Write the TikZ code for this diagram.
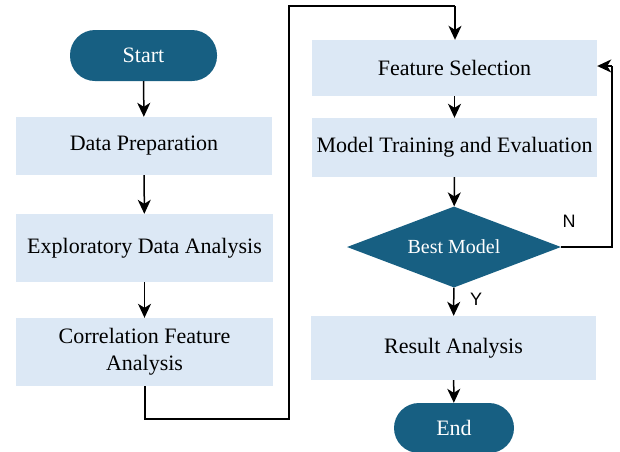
\documentclass[tikz,border=0pt]{standalone}
\usepackage{fontspec}
\setmainfont{Liberation Serif}
\newfontfamily\labfont{Liberation Sans}
\usetikzlibrary{shapes.geometric,arrows.meta}
\definecolor{darkb}{HTML}{175F82}
\definecolor{lightb}{HTML}{DCE8F5}
\begin{document}
\begin{tikzpicture}[x=1pt,y=-1pt,
  procbox/.style={fill=lightb,draw=none,minimum width=#1,inner xsep=1pt,align=center,font=\fontsize{22}{27}\selectfont},
  term/.style={fill=darkb,draw=none,text=white,rounded corners=25pt,font=\fontsize{22}{27}\selectfont},
  decis/.style={fill=darkb,draw=none,text=white,diamond,aspect=2.64,inner sep=0pt,font=\fontsize{20}{24}\selectfont},
  conn/.style={line width=1.5pt,-{Stealth[length=14pt,width=13pt,inset=4pt]}},
  lab/.style={font=\labfont\fontsize{18}{20}\selectfont}]
\useasboundingbox (0,0) rectangle (620,451);
\node[term,minimum width=147pt,minimum height=51pt] (start) at (143.5,55.5) {Start};
\node[procbox=256pt,minimum height=58pt] (prep) at (144,146) {Data Preparation};
\node[procbox=257pt,minimum height=68pt] (eda) at (144.5,248) {Exploratory Data Analysis};
\node[procbox=257pt,minimum height=68pt] (corr) at (144.5,352) {Correlation Feature\\Analysis};
\node[procbox=285pt,minimum height=56pt] (fs) at (454.5,68) {Feature Selection};
\node[procbox=285pt,minimum height=59pt] (mt) at (454.5,147.5) {Model Training and Evaluation};
\node[decis,minimum width=214pt,minimum height=81pt] (best) at (454,247) {Best Model};
\node[procbox=285pt,minimum height=64pt] (res) at (453.5,348) {Result Analysis};
\node[term,minimum width=120pt,minimum height=50pt] (end) at (454,428) {End};
\coordinate (c1) at (145,419);
\coordinate (c2) at (289,419);
\coordinate (c3) at (289,6);
\coordinate (c4) at (455,6);
\coordinate (n1) at (612,247);
\coordinate (n2) at (612,66);
\draw[conn] (start) -- (prep);
\draw[conn] (prep) -- (eda);
\draw[conn] (eda) -- (corr);
\draw[line width=1.5pt] (corr.south -| c1) -- (c1) -- (c2) -- (c3) -- (c4);
\draw[conn] (c4) -- (fs.north -| c4);
\draw[conn] (fs) -- (mt);
\draw[conn] (mt) -- (best);
\draw[conn] (best) -- (res);
\draw[conn] (res) -- (end);
\draw[line width=1.5pt] (best.east) -- (n1) -- (n2);
\draw[conn] (n2) -- (fs.east |- n2);
\node[lab] (nlab) at (569,221) {N};
\node[lab] (ylab) at (476,299) {Y};
\end{tikzpicture}
\end{document}
